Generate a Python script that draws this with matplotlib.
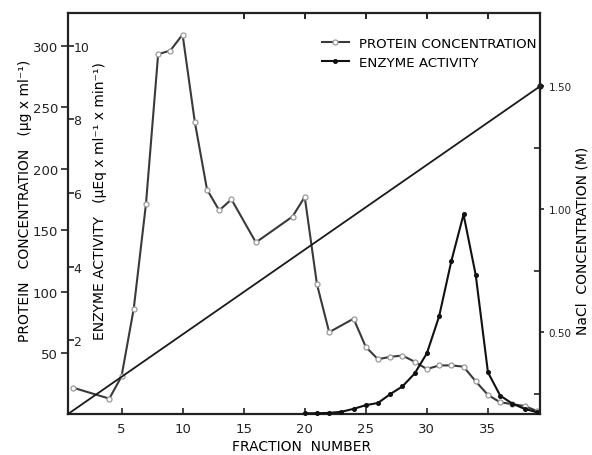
import matplotlib
matplotlib.use("Agg")
import matplotlib.pyplot as plt
from matplotlib.ticker import FixedLocator, FixedFormatter

# ---------------- data ----------------
protein_fraction = [1, 4, 5, 6, 7, 8, 9, 10, 11, 12, 13, 14, 16, 19, 20, 21, 22, 24,
                    25, 26, 27, 28, 29, 30, 31, 32, 33, 34, 35, 36, 37, 38, 39]
protein_conc = [22, 13, 31, 86, 171, 293, 296, 309, 238, 183, 166, 175, 140, 161, 177,
                106, 67, 78, 55, 45, 47, 48, 43, 37, 40, 40, 39, 27, 16, 10, 8.5, 7, 3]

enzyme_fraction = [20, 21, 22, 23, 24, 25, 26, 27, 28, 29, 30, 31, 32, 33, 34, 35, 36,
                   37, 38, 39]
enzyme_activity = [0.02, 0.02, 0.03, 0.06, 0.14, 0.24, 0.30, 0.54, 0.75, 1.10, 1.65,
                   2.65, 4.15, 5.42, 3.77, 1.13, 0.50, 0.28, 0.14, 0.05]

nacl_fraction = [0.62, 39.26]
nacl_conc = [0.168, 1.50]

x_ticks = [5, 10, 15, 20, 25, 30, 35]
top_ticks = [15, 20, 25, 30, 35]
protein_ticks = [50, 100, 150, 200, 250, 300]
enzyme_ticks = [2, 4, 6, 8, 10]
nacl_major = [0.50, 1.00, 1.50]
nacl_major_labels = ["0.50", "1.00", "1.50"]
nacl_minor = [0.25, 0.75, 1.25]

# ---------------- figure ----------------
plt.rcParams['font.family'] = ['DejaVu Sans']
W, H = 592, 456
fig = plt.figure(figsize=(W / 100, H / 100), dpi=100)
L, R, B, T = 68, 540, 415, 14
ax = fig.add_axes([L / W, 1 - B / H, (R - L) / W, (B - T) / H])
ax2 = ax.twinx()
ax3 = ax.twinx()

ink = "#222222"
for a in (ax, ax2, ax3):
    a.set_xlim(0.62, 39.26)
    for s in a.spines.values():
        s.set_linewidth(1.6)
        s.set_color(ink)
for s in ("left", "right", "top", "bottom"):
    ax2.spines[s].set_visible(False)
    if s != "right":
        ax3.spines[s].set_visible(False)
ax.spines["right"].set_visible(False)

ax.set_ylim(0.5, 326.5)
ax2.set_ylim(0.0, 10.89)
ax3.set_ylim(0.168, 1.798)

# protein
l1, = ax.plot(protein_fraction, protein_conc, color="#3a3a3a", lw=1.5,
              marker="o", ms=3.6, mfc="white", mec="#9a9a9a", mew=0.9,
              label="PROTEIN CONCENTRATION", zorder=3)
# enzyme
l2, = ax2.plot(enzyme_fraction, enzyme_activity, color="#111111", lw=1.5,
               marker="o", ms=2.6, mfc="#111111", mec="#111111",
               label="ENZYME ACTIVITY", zorder=3, clip_on=False)
# NaCl gradient
ax3.plot(nacl_fraction, nacl_conc, color="#1a1a1a", lw=1.3, marker="o", ms=3.5,
         markevery=[1], clip_on=False)

# x axis
ax.xaxis.set_major_locator(FixedLocator(x_ticks))
ax.tick_params(axis="x", direction="in", length=4, width=1.2, labelsize=9.5,
               pad=6, colors=ink)
ax.set_xlabel("FRACTION  NUMBER", fontsize=10)
ax.xaxis.set_label_coords((302 - L) / (R - L), (B - 447) / (B - T))
ax.xaxis.label.set_va("center")
# top ticks on a secondary x axis
axt = ax.secondary_xaxis("top")
axt.xaxis.set_major_locator(FixedLocator(top_ticks))
axt.tick_params(axis="x", direction="in", length=4, width=1.2, labelsize=0)
axt.set_xticklabels([])
axt.spines["top"].set_visible(False)

# protein (outer left) axis
ax.yaxis.set_major_locator(FixedLocator(protein_ticks))
ax.tick_params(axis="y", direction="out", length=5, width=1.2, labelsize=9.5,
               pad=2, colors=ink)
ax.set_ylabel("PROTEIN   CONCENTRATION   (µg x ml⁻¹)", fontsize=10)
ax.yaxis.set_label_coords((25 - L) / (R - L), (B - 201) / (B - T))
ax.yaxis.label.set_va("center")

# enzyme (inner left) axis
ax2.yaxis.set_label_position("left")
ax2.yaxis.tick_left()
ax2.yaxis.set_major_locator(FixedLocator(enzyme_ticks))
ax2.tick_params(axis="y", direction="in", length=4, width=1.2, labelsize=9,
                pad=-4, colors=ink)
for t in ax2.yaxis.get_major_ticks():
    t.label1.set_horizontalalignment("left")
ax2.set_ylabel("ENZYME ACTIVITY   (µEq x ml⁻¹ x min⁻¹)", fontsize=10)
ax2.yaxis.set_label_coords((100 - L) / (R - L), (B - 201) / (B - T))
ax2.yaxis.label.set_va("center")

# NaCl (right) axis
ax3.yaxis.set_major_locator(FixedLocator(nacl_major))
ax3.yaxis.set_major_formatter(FixedFormatter(nacl_major_labels))
ax3.yaxis.set_minor_locator(FixedLocator(nacl_minor))
ax3.tick_params(axis="y", which="major", direction="out", length=3, width=1.2,
                labelsize=7.5, pad=3, colors=ink)
ax3.tick_params(axis="y", which="minor", direction="in", length=4, width=1.2,
                colors=ink)
ax3.set_ylabel("NaCl  CONCENTRATION (M)", fontsize=10)
ax3.yaxis.set_label_coords((582 - L) / (R - L), (B - 241) / (B - T))
ax3.yaxis.label.set_va("center")

leg = ax3.legend(handles=[l1, l2], loc="upper left",
                 bbox_to_anchor=(322 / W, 1 - 38 / H), bbox_transform=fig.transFigure,
                 frameon=False, fontsize=9.6, handlelength=2.0, handletextpad=0.75,
                 labelspacing=0.45, borderpad=0, borderaxespad=0)

fig.savefig("out.png", dpi=100)
